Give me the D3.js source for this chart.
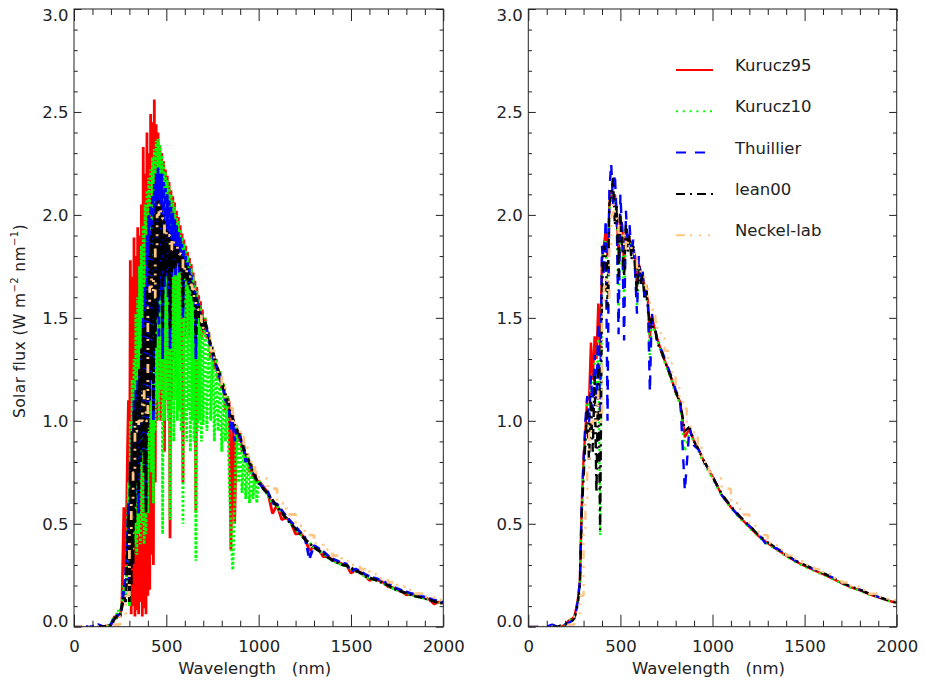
<!DOCTYPE html>
<html>
<head>
<meta charset="utf-8">
<script src="https://cdn.jsdelivr.net/npm/d3@7"></script>
<style>
  body { margin: 0; background: #fff; }
  text { font-family: "DejaVu Sans", sans-serif; }
</style>
</head>
<body>
<svg id="chart" width="925" height="680"></svg>
<script>
// ---- data ----
// left panel: full resolution spectra, shared wavelength grid (nm)
const waveL = [0, 50, 100, 130, 160, 190, 200, 210, 220, 230, 240, 250, 260, 270, 280, 290,
  295, 300, 305, 310, 315, 320, 325, 330, 335, 340, 345, 350, 355, 360, 365, 370, 375, 380, 385, 390, 395, 400,
  405, 410, 415, 420, 425, 430, 435, 440, 445, 450, 455, 460, 465, 470, 475, 480, 485, 490, 495, 500,
  505, 510, 515, 520, 525, 530, 535, 540, 545, 550, 555, 560, 565, 570, 575, 580, 585, 590, 595, 600,
  605, 610, 615, 620, 625, 630, 635, 640, 645, 650, 655, 660, 665, 670, 675, 680, 685, 690, 695, 700,
  710, 720, 730, 740, 750, 760, 770, 780, 790, 800, 810, 820, 830, 840, 850, 860, 870, 880, 890, 900,
  910, 920, 930, 940, 950, 960, 970, 980, 990, 1000,
  1025, 1050, 1075, 1100, 1125, 1150, 1175, 1200, 1225, 1250, 1275, 1300, 1325, 1350, 1375, 1400,
  1425, 1450, 1475, 1500, 1525, 1550, 1575, 1600, 1625, 1650, 1675, 1700, 1725, 1750, 1775, 1800,
  1825, 1850, 1875, 1900, 1925, 1950, 1975, 2000]

const kurucz95L = [null, null, null, null, 0, 0.005, 0.01, 0.03, 0.05, 0.04, 0.06, 0.05, 0.12, 0.58, 0.25, 0.86,
  1.10, 0.12, 1.78, 0.06, 1.70, 0.10, 1.89, 0.05, 1.80, 0.08, 1.94, 0.06, 1.90, 0.12, 2.05, 0.05, 2.33, 0.09, 2.20, 0.06, 2.40, 0.15,
  2.30, 0.18, 2.49, 0.35, 2.45, 0.30, 2.56, 0.70, 2.44, 1.00, 2.40, 1.20, 2.33, 1.00, 2.30, 1.10, 2.26, 0.85, 2.22, 1.20,
  2.19, 1.05, 2.16, 0.43, 2.12, 1.10, 2.09, 1.30, 2.06, 1.20, 2.02, 1.40, 1.99, 1.30, 1.95, 1.45, 1.91, 0.70, 1.88, 1.40,
  1.85, 1.45, 1.82, 1.40, 1.79, 1.50, 1.76, 1.45, 1.72, 1.45, 1.68, 0.56, 1.65, 1.45, 1.61, 1.45, 1.58, 1.40, 1.54, 1.42,
  1.50, 1.40, 1.43, 1.30, 1.36, 1.25, 1.30, 1.20, 1.24, 1.15, 1.18, 1.05, 1.12, 1.09, 0.37, 1.03, 0.50, 0.98, 0.90, 0.94,
  0.85, 0.88, 0.80, 0.84, 0.75, 0.79, 0.72, 0.75, 0.70, 0.71,
  0.68, 0.65, 0.55, 0.59, 0.52, 0.53, 0.505, 0.45, 0.455, 0.43, 0.37, 0.39, 0.375, 0.34, 0.34, 0.325,
  0.315, 0.305, 0.30, 0.26, 0.275, 0.265, 0.25, 0.225, 0.232, 0.225, 0.215, 0.195, 0.19, 0.18, 0.172, 0.155,
  0.157, 0.15, 0.145, 0.14, 0.132, 0.11, 0.12, 0.115]

const kurucz10L = [null, null, null, null, 0, 0.005, 0.01, 0.04, 0.03, 0.06, 0.08, 0.05, 0.12, 0.20, 0.15, 0.50,
  0.70, 0.10, 1.00, 0.30, 1.20, 0.35, 1.30, 0.40, 1.52, 0.35, 1.60, 0.45, 1.75, 0.40, 1.85, 0.50, 1.95, 0.40, 2.05, 0.45, 2.12, 0.55,
  2.18, 0.80, 2.22, 0.75, 2.28, 0.60, 2.32, 0.95, 2.36, 1.10, 2.37, 1.00, 2.34, 1.15, 2.29, 0.45, 2.25, 1.00, 2.21, 1.10,
  2.17, 1.00, 2.14, 0.52, 2.10, 1.05, 2.07, 0.90, 2.04, 1.10, 2.00, 1.00, 1.97, 1.05, 1.93, 0.95, 1.89, 0.50, 1.86, 1.00,
  1.83, 0.90, 1.80, 1.05, 1.77, 0.85, 1.74, 1.00, 1.70, 0.90, 1.66, 0.32, 1.63, 0.95, 1.59, 1.00, 1.56, 0.90, 1.52, 0.98,
  1.50, 0.95, 1.43, 1.00, 1.36, 0.90, 1.30, 0.95, 1.24, 0.85, 1.18, 0.90, 1.12, 0.75, 0.45, 0.275, 0.60, 0.98, 0.70, 0.94,
  0.65, 0.88, 0.62, 0.84, 0.60, 0.79, 0.62, 0.75, 0.60, 0.71,
  0.67, 0.64, 0.60, 0.585, 0.55, 0.525, 0.50, 0.475, 0.45, 0.425, 0.405, 0.385, 0.37, 0.355, 0.335, 0.32,
  0.31, 0.30, 0.295, 0.28, 0.27, 0.26, 0.245, 0.235, 0.228, 0.22, 0.21, 0.20, 0.187, 0.177, 0.17, 0.162,
  0.155, 0.148, 0.142, 0.137, 0.13, 0.123, 0.118, 0.113]

const thuillierL = [0, 0, 0.002, 0.01, 0, 0.005, 0.01, 0.03, 0.05, 0.05, 0.06, 0.05, 0.10, 0.18, 0.25, 0.45,
  0.60, 0.15, 0.80, 0.30, 0.95, 0.50, 1.10, 0.60, 1.15, 0.70, 1.20, 0.55, 1.25, 0.80, 1.35, 0.85, 1.50, 0.90, 1.65, 0.60, 1.90, 1.00,
  2.00, 1.10, 2.05, 1.20, 2.10, 1.00, 2.15, 1.40, 2.20, 1.50, 2.23, 1.40, 2.20, 1.60, 2.20, 1.30, 2.16, 1.65, 2.13, 1.70,
  2.10, 1.60, 2.07, 1.35, 2.04, 1.70, 2.01, 1.75, 1.98, 1.70, 1.95, 1.80, 1.92, 1.72, 1.89, 1.78, 1.86, 1.50, 1.83, 1.72,
  1.80, 1.70, 1.77, 1.66, 1.74, 1.65, 1.71, 1.62, 1.67, 1.60, 1.63, 1.30, 1.60, 1.52, 1.57, 1.50, 1.53, 1.48, 1.50, 1.45,
  1.47, 1.44, 1.40, 1.36, 1.33, 1.28, 1.27, 1.24, 1.21, 1.18, 1.15, 1.10, 1.09, 1.06, 0.95, 1.00, 0.90, 0.96, 0.93, 0.92,
  0.89, 0.86, 0.80, 0.82, 0.80, 0.77, 0.75, 0.73, 0.71, 0.70,
  0.675, 0.655, 0.60, 0.595, 0.565, 0.535, 0.51, 0.485, 0.46, 0.435, 0.33, 0.395, 0.38, 0.365, 0.345, 0.33,
  0.32, 0.31, 0.305, 0.27, 0.28, 0.27, 0.255, 0.245, 0.237, 0.23, 0.22, 0.21, 0.195, 0.185, 0.177, 0.17,
  0.162, 0.155, 0.15, 0.144, 0.137, 0.13, 0.124, 0.118]

const lean00L = [null, null, null, 0, 0, 0.005, 0.01, 0.02, 0.04, 0.05, 0.05, 0.06, 0.10, 0.15, 0.12, 0.40,
  0.55, 0.12, 0.80, 0.20, 0.95, 0.30, 1.05, 0.50, 1.10, 0.70, 1.15, 0.65, 1.25, 0.80, 1.35, 0.85, 1.45, 0.75, 1.55, 0.55, 1.65, 0.95,
  1.80, 1.10, 1.90, 1.20, 1.95, 1.05, 2.00, 1.35, 2.05, 1.50, 2.07, 1.60, 2.05, 1.70, 2.02, 1.45, 1.98, 1.70, 1.95, 1.72,
  1.92, 1.70, 1.90, 1.45, 1.88, 1.72, 1.86, 1.74, 1.85, 1.75, 1.85, 1.76, 1.84, 1.75, 1.82, 1.72, 1.80, 1.55, 1.78, 1.70,
  1.76, 1.68, 1.74, 1.66, 1.71, 1.64, 1.68, 1.60, 1.65, 1.58, 1.62, 1.40, 1.59, 1.52, 1.56, 1.50, 1.52, 1.46, 1.49, 1.44,
  1.48, 1.45, 1.41, 1.37, 1.34, 1.31, 1.28, 1.25, 1.22, 1.19, 1.16, 1.13, 1.10, 1.07, 1.03, 1.01, 0.98, 0.96, 0.94, 0.92,
  0.89, 0.86, 0.84, 0.82, 0.80, 0.77, 0.75, 0.73, 0.71, 0.70,
  0.67, 0.645, 0.615, 0.585, 0.555, 0.525, 0.50, 0.475, 0.45, 0.425, 0.405, 0.385, 0.37, 0.355, 0.337, 0.322,
  0.312, 0.302, 0.297, 0.287, 0.272, 0.262, 0.248, 0.238, 0.23, 0.222, 0.212, 0.202, 0.188, 0.178, 0.17, 0.163,
  0.155, 0.148, 0.143, 0.138, 0.13, 0.123, 0.118, 0.113]

// Neckel & Labs: coarse bins, same in both panels
const waveN = [0, 100, 200, 250, 280,
  300, 310, 320, 330, 340, 350, 360, 370, 380, 390, 400, 410, 420, 430, 440, 450, 460, 470, 480, 490, 500,
  510, 520, 530, 540, 550, 560, 570, 580, 590, 600, 610, 620, 630, 640, 650, 660, 670, 680, 690, 700,
  720, 740, 760, 780, 800, 820, 840, 860, 880, 900, 920, 940, 960, 980, 1000,
  1050, 1100, 1150, 1200, 1250, 1300, 1350, 1400, 1450, 1500, 1550, 1600, 1650, 1700, 1750, 1800, 1850, 1900, 1950, 2000]
const neckelLab = [0, 0, 0.01, 0.05, 0.15,
  0.45, 0.60, 0.75, 1.00, 0.95, 1.00, 1.00, 1.15, 1.05, 1.00, 1.55, 1.65, 1.70, 1.60, 1.85, 2.00, 2.05, 2.00, 1.98, 1.90, 1.92,
  1.90, 1.83, 1.88, 1.86, 1.86, 1.82, 1.81, 1.80, 1.73, 1.75, 1.72, 1.70, 1.66, 1.64, 1.60, 1.55, 1.54, 1.51, 1.48, 1.45,
  1.40, 1.34, 1.28, 1.22, 1.16, 1.11, 1.06, 0.99, 0.96, 0.92, 0.87, 0.83, 0.79, 0.75, 0.72,
  0.67, 0.60, 0.545, 0.49, 0.445, 0.405, 0.375, 0.345, 0.318, 0.30, 0.28, 0.255, 0.235, 0.215, 0.195, 0.178, 0.16, 0.145, 0.13, 0.118]

// right panel: spectra degraded to a common resolution
const waveR = [0, 50, 100, 130, 160, 190, 200, 220, 240, 250, 260, 270,
  280, 290, 300, 310, 320, 330, 340, 350, 360, 370, 380, 390, 400, 410, 420, 430, 440, 450, 460, 470, 480, 490, 500,
  510, 520, 530, 540, 550, 560, 570, 580, 590, 600, 610, 620, 630, 640, 650, 660, 670, 680, 690, 700,
  725, 750, 775, 800, 825, 850, 875, 900, 925, 950, 975, 1000,
  1050, 1100, 1150, 1200, 1250, 1300, 1350, 1400, 1450, 1500, 1550, 1600, 1650, 1700, 1750, 1800, 1850, 1900, 1950, 2000]

const kurucz95R = [null, null, null, null, 0, 0.005, 0.01, 0.03, 0.04, 0.05, 0.09, 0.14,
  0.22, 0.58, 0.82, 0.95, 1.12, 1.10, 1.38, 1.20, 1.41, 1.30, 1.57, 1.35, 1.78, 1.85, 1.92, 1.80, 2.05, 2.12, 2.08, 2.10, 2.02, 1.80, 1.98,
  1.95, 1.75, 1.93, 1.90, 1.88, 1.86, 1.83, 1.80, 1.65, 1.76, 1.73, 1.70, 1.66, 1.62, 1.58, 1.40, 1.51, 1.47, 1.43, 1.40,
  1.33, 1.27, 1.21, 1.14, 1.09, 0.92, 0.96, 0.90, 0.86, 0.81, 0.77, 0.73,
  0.64, 0.58, 0.53, 0.485, 0.44, 0.405, 0.375, 0.345, 0.318, 0.295, 0.275, 0.255, 0.235, 0.212, 0.192, 0.177, 0.158, 0.143, 0.128, 0.115]

const kurucz10R = [null, null, null, null, 0, 0.005, 0.01, 0.03, 0.04, 0.05, 0.08, 0.13,
  0.21, 0.57, 0.78, 0.92, 1.08, 1.05, 1.20, 1.12, 1.28, 1.15, 1.42, 0.44, 1.70, 1.82, 1.88, 1.60, 2.02, 2.10, 2.05, 2.08, 2.00, 1.50, 1.96,
  1.93, 1.55, 1.91, 1.88, 1.86, 1.84, 1.81, 1.78, 1.55, 1.74, 1.71, 1.68, 1.64, 1.60, 1.56, 1.30, 1.49, 1.46, 1.42, 1.39,
  1.32, 1.26, 1.20, 1.13, 1.08, 0.85, 0.95, 0.89, 0.85, 0.80, 0.76, 0.72,
  0.635, 0.575, 0.525, 0.48, 0.437, 0.40, 0.372, 0.342, 0.315, 0.292, 0.272, 0.252, 0.232, 0.21, 0.19, 0.175, 0.156, 0.141, 0.127, 0.114]

const thuillierR = [0, 0, 0, 0.01, 0, 0, 0.01, 0.02, 0.03, 0.04, 0.08, 0.13,
  0.22, 0.60, 0.80, 1.00, 1.12, 0.98, 1.22, 1.05, 1.32, 1.10, 1.48, 1.05, 1.85, 1.70, 1.98, 1.00, 2.12, 2.25, 2.05, 2.20, 1.98, 1.42, 2.10,
  1.90, 1.39, 2.02, 1.85, 1.95, 1.80, 1.88, 1.72, 1.52, 1.80, 1.66, 1.74, 1.60, 1.66, 1.55, 1.14, 1.53, 1.45, 1.45, 1.38,
  1.34, 1.28, 1.22, 1.15, 1.10, 0.66, 0.97, 0.88, 0.86, 0.81, 0.77, 0.73,
  0.64, 0.58, 0.53, 0.49, 0.45, 0.39, 0.38, 0.35, 0.32, 0.30, 0.28, 0.26, 0.24, 0.215, 0.195, 0.18, 0.16, 0.145, 0.13, 0.118]

const lean00R = [null, null, null, 0, 0, 0.01, 0.01, 0.02, 0.03, 0.04, 0.07, 0.12,
  0.20, 0.55, 0.72, 0.90, 1.05, 0.80, 1.12, 0.85, 1.22, 0.65, 1.28, 0.47, 1.62, 1.85, 1.80, 1.55, 2.05, 2.10, 2.18, 1.95, 2.05, 1.70, 2.00,
  1.85, 1.70, 1.95, 1.82, 1.90, 1.78, 1.85, 1.74, 1.62, 1.76, 1.66, 1.72, 1.60, 1.63, 1.55, 1.45, 1.50, 1.44, 1.44, 1.38,
  1.33, 1.27, 1.21, 1.14, 1.09, 0.95, 0.97, 0.90, 0.86, 0.81, 0.77, 0.73,
  0.645, 0.585, 0.535, 0.49, 0.445, 0.41, 0.38, 0.35, 0.32, 0.30, 0.28, 0.26, 0.24, 0.215, 0.195, 0.18, 0.16, 0.145, 0.13, 0.117]

const seriesNames = ['Kurucz95', 'Kurucz10', 'Thuillier', 'lean00', 'Neckel-lab']
const xTicks = [0, 500, 1000, 1500, 2000]
const yTicks = [0, 0.5, 1.0, 1.5, 2.0, 2.5, 3.0]

// ---- styles ----
const styles = {
  'Kurucz95':   { color: '#ff0000', dash: null,              dense: null },
  'Kurucz10':   { color: '#00ff00', dash: '2,4.8',           dense: '2.5,2' },
  'Thuillier':  { color: '#0000ff', dash: '10,9',            dense: '8,4' },
  'lean00':     { color: '#000000', dash: '9,5,2,5',         dense: '8,3,2,3' },
  'Neckel-lab': { color: '#ffc685', dash: '9,5,2,7,2,7,2,7', dense: '9,5,2,7,2,7,2,7' }
}
const fontSize = 16.5
const ink = '#222'

const svg = d3.select('#chart')
const y = d3.scaleLinear().domain([0, 3]).range([626.7, 9])

function drawPanel(id, left, right, lines, opts) {
  const x = d3.scaleLinear().domain([0, 2000]).range([left, right])
  const g = svg.append('g')

  g.append('clipPath').attr('id', 'clip' + id)
    .append('rect')
    .attr('x', left).attr('y', y(3))
    .attr('width', right - left).attr('height', y(0) - y(3))

  const plot = g.append('g').attr('clip-path', `url(#clip${id})`)
  lines.forEach(s => {
    const st = styles[s.name]
    const line = d3.line()
      .defined(d => d[1] != null)
      .x(d => x(d[0]))
      .y(d => y(d[1]))
      .curve(s.step ? d3.curveStepAfter : d3.curveLinear)
    plot.append('path')
      .datum(d3.zip(s.wave, s.flux))
      .attr('fill', 'none')
      .attr('stroke', st.color)
      .attr('stroke-width', opts.lineWidth)
      .attr('stroke-linejoin', 'bevel')
      .attr('stroke-dasharray', opts.dense ? st.dense : st.dash)
      .attr('d', line)
  })

  // axes, IDL style: ticks inside on all four sides
  const minorX = d3.range(100, 2000, 100).filter(v => v % 500)
  const minorY = d3.range(1, 30).filter(v => v % 5).map(v => v / 10)
  const axes = g.append('g').attr('color', ink)

  axes.append('g').attr('transform', `translate(0,${y(0)})`)
    .call(d3.axisBottom(x).tickValues(xTicks).tickSize(-12).tickPadding(14).tickFormat(d3.format('d')))
  axes.append('g').attr('transform', `translate(0,${y(0)})`)
    .call(d3.axisBottom(x).tickValues(minorX).tickSize(-6).tickFormat(''))
  axes.append('g').attr('transform', `translate(0,${y(3)})`)
    .call(d3.axisTop(x).tickValues(xTicks).tickSize(-12).tickFormat(''))
  axes.append('g').attr('transform', `translate(0,${y(3)})`)
    .call(d3.axisTop(x).tickValues(minorX).tickSize(-6).tickFormat(''))

  const yl = axes.append('g').attr('transform', `translate(${left},0)`)
    .call(d3.axisLeft(y).tickValues(yTicks).tickSize(-7.5).tickPadding(5.5).tickFormat(d3.format('.1f')))
  yl.selectAll('.tick text')
    .attr('transform', d => d === 3 ? 'translate(0,6)' : d === 0 ? 'translate(0,-5)' : null)
  axes.append('g').attr('transform', `translate(${left},0)`)
    .call(d3.axisLeft(y).tickValues(minorY).tickSize(-3.7).tickFormat(''))
  axes.append('g').attr('transform', `translate(${right},0)`)
    .call(d3.axisRight(y).tickValues(yTicks).tickSize(-7.5).tickFormat(''))
  axes.append('g').attr('transform', `translate(${right},0)`)
    .call(d3.axisRight(y).tickValues(minorY).tickSize(-3.7).tickFormat(''))

  axes.selectAll('.domain').remove()
  axes.selectAll(':scope > g')
    .attr('font-size', fontSize)
    .attr('font-family', '"DejaVu Sans", sans-serif')
  axes.selectAll('.tick line').attr('stroke-width', 1)

  g.append('rect')
    .attr('x', left).attr('y', y(3))
    .attr('width', right - left).attr('height', y(0) - y(3))
    .attr('fill', 'none').attr('stroke', ink).attr('stroke-width', 1)

  g.append('text')
    .attr('x', (left + right) / 2 - 4).attr('y', 674)
    .attr('text-anchor', 'middle').attr('font-size', fontSize).attr('fill', ink)
    .attr('xml:space', 'preserve').style('white-space', 'pre')
    .text('Wavelength   (nm)')

  if (opts.title) {
    const t = g.append('text')
      .attr('transform', 'translate(25,321) rotate(-90)')
      .attr('text-anchor', 'middle').attr('font-size', fontSize - 1).attr('fill', ink)
      .attr('letter-spacing', 0.4)
    t.append('tspan').text('Solar flux (W m')
    t.append('tspan').attr('font-size', 10).attr('dy', -7).text('\u22122')
    t.append('tspan').attr('dy', 7).text(' nm')
    t.append('tspan').attr('font-size', 10).attr('dy', -7).text('\u22121')
    t.append('tspan').attr('dy', 7).text(')')
  }

  if (opts.legend) {
    const leg = g.append('g')
    seriesNames.forEach((name, i) => {
      const st = styles[name]
      const ly = 70 + i * 41.3
      leg.append('line')
        .attr('x1', 676).attr('x2', 713).attr('y1', ly).attr('y2', ly)
        .attr('stroke', st.color).attr('stroke-width', 2)
        .attr('stroke-dasharray', st.dash)
      leg.append('text')
        .attr('x', 735).attr('y', ly + 1)
        .attr('font-size', fontSize).attr('fill', ink)
        .text(name)
    })
  }
}

drawPanel('L', 74, 443.3, [
  { name: 'Kurucz95', wave: waveL, flux: kurucz95L },
  { name: 'Kurucz10', wave: waveL, flux: kurucz10L },
  { name: 'Thuillier', wave: waveL, flux: thuillierL },
  { name: 'lean00', wave: waveL, flux: lean00L },
  { name: 'Neckel-lab', wave: waveN, flux: neckelLab, step: true }
], { title: true, legend: false, lineWidth: 2.8, dense: true })

drawPanel('R', 528.3, 896.7, [
  { name: 'Kurucz95', wave: waveR, flux: kurucz95R },
  { name: 'Kurucz10', wave: waveR, flux: kurucz10R },
  { name: 'Thuillier', wave: waveR, flux: thuillierR },
  { name: 'lean00', wave: waveR, flux: lean00R },
  { name: 'Neckel-lab', wave: waveN, flux: neckelLab, step: true }
], { title: false, legend: true, lineWidth: 2.4, dense: false })
</script>
</body>
</html>
